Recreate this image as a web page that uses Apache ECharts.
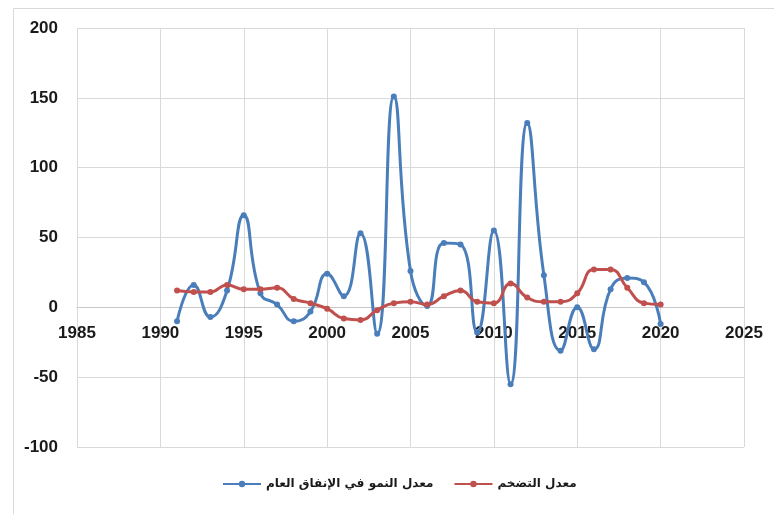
<!DOCTYPE html>
<html>
<head>
<meta charset="utf-8">
<script src="https://cdn.jsdelivr.net/npm/echarts@6/dist/echarts.min.js"></script>
<style>
  html, body { margin: 0; padding: 0; background: #ffffff; }
  #chart { width: 774px; height: 514px; }
</style>
</head>
<body>
<div id="chart"></div>
<script>
// Years covered by both series
const years = [1991, 1992, 1993, 1994, 1995, 1996, 1997, 1998, 1999, 2000,
               2001, 2002, 2003, 2004, 2005, 2006, 2007, 2008, 2009, 2010,
               2011, 2012, 2013, 2014, 2015, 2016, 2017, 2018, 2019, 2020];

// Growth rate of public spending (%)
const spendingGrowth = [-10, 16, -7, 12, 66, 10, 2, -10, -3, 24,
                        8, 53, -19, 151, 26, 1, 46, 45, -18, 55,
                        -55, 132, 23, -31, 0, -30, 13, 21, 18, -12];

// Inflation rate (%)
const inflation = [12, 11, 11, 16, 13, 13, 14, 6, 3, -1,
                   -8, -9, -2, 3, 4, 2, 8, 12, 4, 3,
                   17, 7, 4, 4, 10, 27, 27, 14, 3, 2];

const seriesNames = ['معدل النمو في الإنفاق العام', 'معدل التضخم'];

const pairs = (vals) => years.map((y, i) => [y, vals[i]]);

const chart = echarts.init(document.getElementById('chart'), null, { renderer: 'canvas' });

const axisFont = {
  fontFamily: 'Liberation Sans, Arial, sans-serif',
  fontWeight: 'bold',
  fontSize: 17,
  color: '#1a1a1a'
};

chart.setOption({
  animation: false,
  backgroundColor: '#ffffff',
  graphic: [{
    type: 'rect',
    z: -10,
    shape: { x: 13.5, y: 8.5, width: 790, height: 530 },
    style: { fill: 'none', stroke: '#d9d9d9', lineWidth: 1 }
  }],
  grid: { left: 77, right: 30, top: 28, bottom: 67, containLabel: false },
  xAxis: {
    type: 'value',
    min: 1985,
    max: 2025,
    interval: 5,
    axisLine: { show: true, onZero: false, lineStyle: { color: '#c8c8c8', width: 1 } },
    axisTick: { show: false },
    splitLine: { show: true, lineStyle: { color: '#d9d9d9', width: 1 } },
    axisLabel: Object.assign({ margin: 17, formatter: (v) => String(v) }, axisFont)
  },
  yAxis: {
    type: 'value',
    min: -100,
    max: 200,
    interval: 50,
    axisLine: { show: false },
    axisTick: { show: false },
    splitLine: { show: true, lineStyle: { color: '#d9d9d9', width: 1 } },
    axisLabel: Object.assign({ margin: 19 }, axisFont)
  },
  legend: {
    left: 217,
    top: 473,
    itemWidth: 38,
    itemHeight: 8,
    itemGap: 20,
    textStyle: {
      fontFamily: 'DejaVu Sans, sans-serif',
      fontWeight: 'bold',
      fontSize: 12,
      color: '#1a1a1a'
    },
    data: seriesNames
  },
  series: [
    {
      name: seriesNames[0],
      type: 'line',
      data: pairs(spendingGrowth),
      smooth: 0.5,
      symbol: 'circle',
      symbolSize: 6,
      lineStyle: { color: '#4A7EBB', width: 3 },
      itemStyle: { color: '#4A7EBB' },
      z: 3
    },
    {
      name: seriesNames[1],
      type: 'line',
      data: pairs(inflation),
      smooth: 0.5,
      symbol: 'circle',
      symbolSize: 6,
      lineStyle: { color: '#C0504D', width: 3 },
      itemStyle: { color: '#C0504D' },
      z: 4
    }
  ]
});

// The year axis crosses the value axis at zero: lift it from the grid bottom
// to the pixel row of y = 0 as computed by the value scale.
const yMin = chart.getModel().getComponent('yAxis', 0).axis.scale.getExtent()[0];
const zeroPx = chart.convertToPixel({ yAxisIndex: 0 }, 0);
const bottomPx = chart.convertToPixel({ yAxisIndex: 0 }, yMin);
chart.setOption({ xAxis: { offset: -(bottomPx - zeroPx) } });
</script>
</body>
</html>
